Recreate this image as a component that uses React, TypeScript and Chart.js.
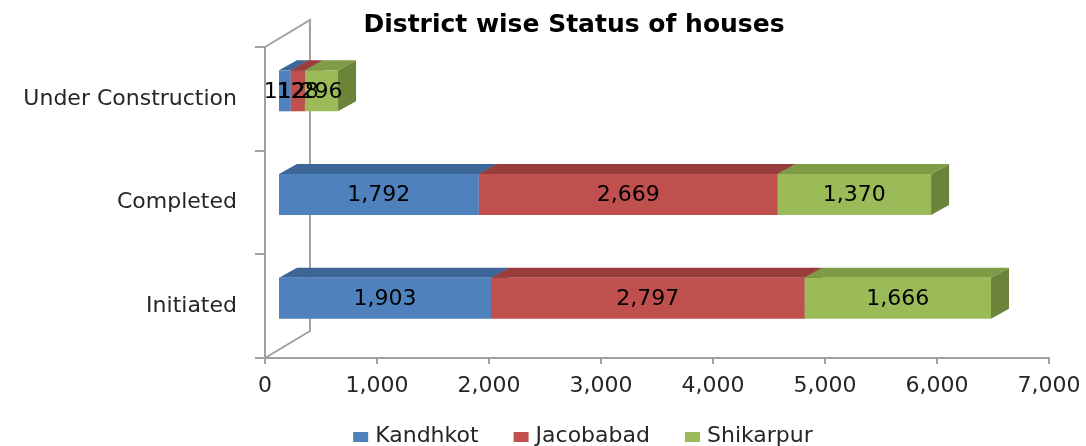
import React, { useEffect, useRef } from 'react';
import { Chart, registerables } from 'chart.js';

Chart.register(...registerables);

const title = 'District wise Status of houses';
const categories = ['Under Construction', 'Completed', 'Initiated'];
const seriesNames = ['Kandhkot', 'Jacobabad', 'Shikarpur'];
const kandhkot = [112, 1792, 1903];
const jacobabad = [128, 2669, 2797];
const shikarpur = [296, 1370, 1666];
const xMax = 7000;
const xStep = 1000;

const frontColors = ['#4F81BD', '#C0504D', '#9BBB59'];
const topColors = ['#3D6698', '#983D3B', '#7E9C46'];
const sideColors = ['#365A86', '#853534', '#6B8439'];

const FONT = "'DejaVu Sans', sans-serif";
const GRAY = '#a0a0a0';
const TEXT = '#262626';
const DX = 18;
const DY = -10;
const SHIFT_X = 13;
const SHIFT_Y = -8;
const WALL_X = 45;
const WALL_Y = -27;
const TITLE_CX = 574;
const TITLE_BASE = 32;
const LEGEND_CX = 583;
const LEGEND_BASE = 442;

const fmt = (v: number) => v.toLocaleString('en-US');

const bar3d = {
  id: 'bar3d',
  beforeDatasetsDraw(chart: any) {
    const { ctx, chartArea: a } = chart;
    ctx.save();
    ctx.strokeStyle = GRAY;
    ctx.lineWidth = 2;
    ctx.beginPath();
    ctx.moveTo(a.left, a.top);
    ctx.lineTo(a.left + WALL_X, a.top + WALL_Y);
    ctx.lineTo(a.left + WALL_X, a.bottom + WALL_Y);
    ctx.lineTo(a.left, a.bottom);
    ctx.stroke();
    ctx.restore();

    ctx.save();
    ctx.translate(SHIFT_X, SHIFT_Y);
    chart.data.datasets.forEach((_ds: any, i: number) => {
      const meta = chart.getDatasetMeta(i);
      meta.data.forEach((el: any) => {
        const { x, y, base, height } = el.getProps(['x', 'y', 'base', 'height'], true);
        const t = y - height / 2;
        const b = y + height / 2;
        ctx.fillStyle = sideColors[i];
        ctx.beginPath();
        ctx.moveTo(x, t);
        ctx.lineTo(x + DX, t + DY);
        ctx.lineTo(x + DX, b + DY);
        ctx.lineTo(x, b);
        ctx.closePath();
        ctx.fill();
        ctx.fillStyle = topColors[i];
        ctx.beginPath();
        ctx.moveTo(base, t);
        ctx.lineTo(x, t);
        ctx.lineTo(x + DX, t + DY);
        ctx.lineTo(base + DX, t + DY);
        ctx.closePath();
        ctx.fill();
      });
    });
  },
  afterDatasetsDraw(chart: any) {
    const { ctx } = chart;
    ctx.font = `22px ${FONT}`;
    ctx.fillStyle = '#000000';
    ctx.textAlign = 'center';
    ctx.textBaseline = 'middle';
    chart.data.datasets.forEach((ds: any, i: number) => {
      const meta = chart.getDatasetMeta(i);
      meta.data.forEach((el: any, j: number) => {
        const { x, y, base } = el.getProps(['x', 'y', 'base'], true);
        ctx.fillText(fmt(ds.data[j] as number), (x + base) / 2, y + 1);
      });
    });
    ctx.restore();
  },
  afterDraw(chart: any) {
    const { ctx } = chart;
    ctx.save();
    // title
    ctx.font = `bold 25px ${FONT}`;
    ctx.fillStyle = '#000000';
    ctx.textAlign = 'center';
    ctx.textBaseline = 'alphabetic';
    ctx.fillText(title, TITLE_CX, TITLE_BASE);
    // legend
    ctx.font = `22px ${FONT}`;
    const boxW = 15;
    const boxH = 10;
    const gapBox = 7;
    const gapItem = 35;
    const widths = chart.data.datasets.map((d: any) => ctx.measureText(d.label).width);
    const total = widths.reduce((s: number, w: number) => s + boxW + gapBox + w, 0) + gapItem * (widths.length - 1);
    let x = LEGEND_CX - total / 2;
    ctx.textAlign = 'left';
    chart.data.datasets.forEach((d: any, i: number) => {
      ctx.fillStyle = d.backgroundColor;
      ctx.fillRect(x, LEGEND_BASE - boxH, boxW, boxH);
      x += boxW + gapBox;
      ctx.fillStyle = TEXT;
      ctx.fillText(d.label, x, LEGEND_BASE);
      x += widths[i] + gapItem;
    });
    ctx.restore();
  },
};

export default function App() {
  const ref = useRef<HTMLCanvasElement | null>(null);
  useEffect(() => {
    if (!ref.current) return;
    const series = [kandhkot, jacobabad, shikarpur];
    const chart = new Chart(ref.current, {
      type: 'bar',
      data: {
        labels: categories,
        datasets: series.map((d, i) => ({
          label: seriesNames[i],
          data: d,
          backgroundColor: frontColors[i],
          borderWidth: 0,
          barPercentage: 0.5,
          categoryPercentage: 0.79,
        })),
      },
      options: {
        indexAxis: 'y',
        responsive: false,
        animation: false,
        layout: { padding: { left: 0, right: 0, top: 47, bottom: 0 } },
        scales: {
          x: {
            stacked: true,
            min: 0,
            max: xMax,
            afterFit: (s: any) => { s.height = 88; s.paddingRight = 37; s.paddingLeft = 0; },
            ticks: {
              stepSize: xStep,
              padding: 9,
              color: TEXT,
              font: { family: FONT, size: 22 },
              maxRotation: 0,
              autoSkip: false,
              callback: (v: any) => fmt(Number(v)),
            },
            grid: { drawOnChartArea: false, drawTicks: true, tickLength: 6, color: GRAY, lineWidth: 2 },
            border: { color: GRAY, width: 2 },
          },
          y: {
            stacked: true,
            afterFit: (s: any) => { s.width = 265; },
            ticks: {
              padding: 18,
              color: TEXT,
              font: { family: FONT, size: 22 },
            },
            grid: { drawOnChartArea: false, drawTicks: true, tickLength: 10, color: GRAY, lineWidth: 2, offset: true },
            border: { color: GRAY, width: 2 },
          },
        },
        plugins: {
          title: { display: false },
          legend: { display: false },
          tooltip: { enabled: false },
        },
      } as any,
      plugins: [bar3d],
    });
    return () => chart.destroy();
  }, []);
  return (
    <div style={{ position: 'fixed', left: 0, top: 0, width: 1086, height: 446, background: '#fff' }}>
      <canvas ref={ref} width={1086} height={446} />
    </div>
  );
}
